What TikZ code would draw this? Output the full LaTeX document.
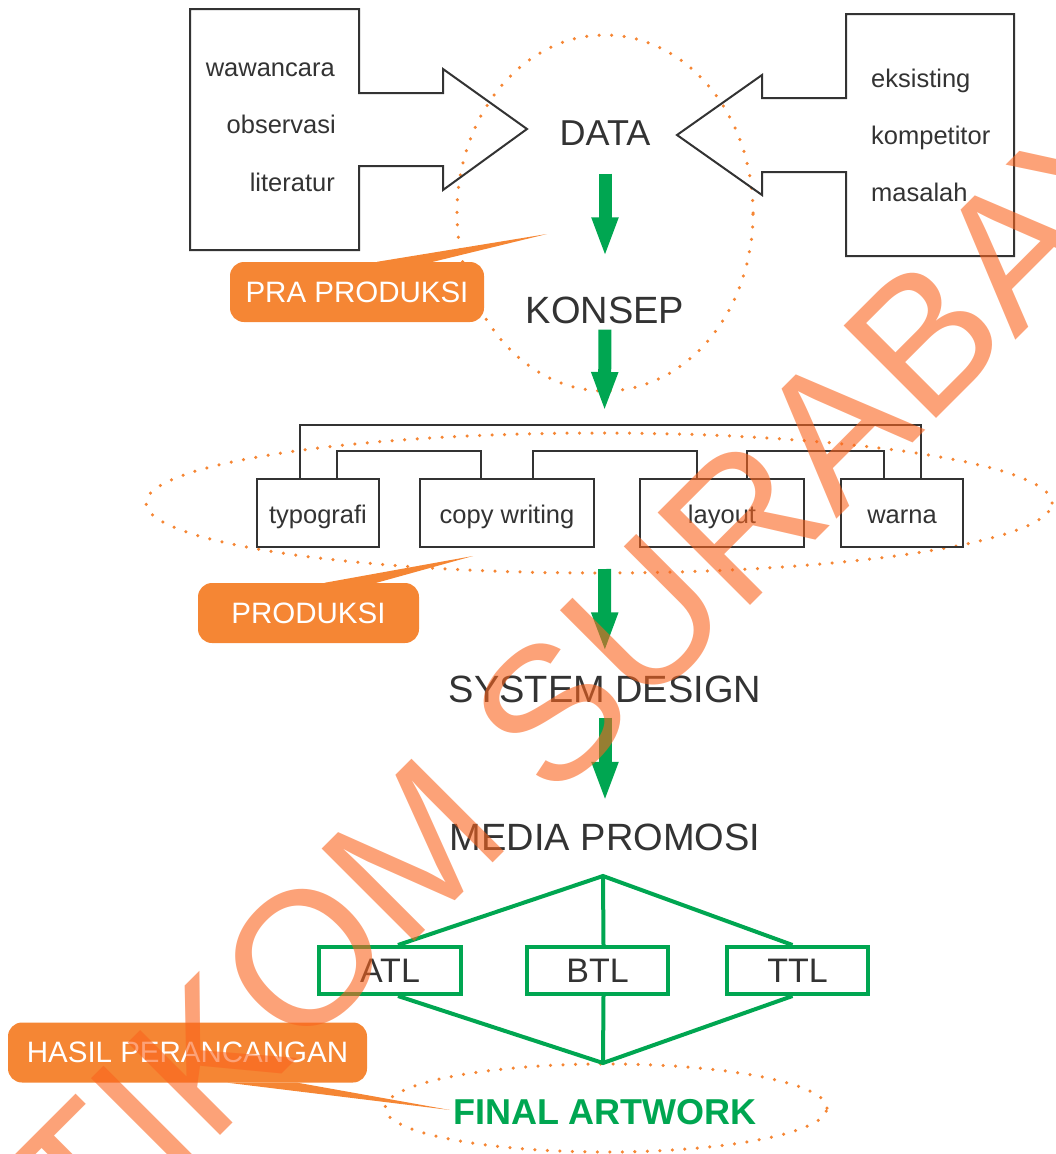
\documentclass[tikz,border=0pt]{standalone}
\usepackage{fontspec}
\setmainfont{Liberation Sans}
\usetikzlibrary{arrows.meta,calc}

\definecolor{inkgray}{HTML}{333333}
\definecolor{flowgreen}{HTML}{00A651}
\definecolor{tagorange}{HTML}{F58634}
\definecolor{markorange}{RGB}{250,100,30}

\tikzset{
  stage/.style={inner sep=0pt,text=inkgray,font=\fontsize{38}{38}\selectfont},
  source/.style={inner sep=0pt,text=inkgray,font=\fontsize{25.5}{26}\selectfont},
  part/.style={draw=inkgray,line width=2pt,minimum height=67.7pt,inner sep=0pt,
    text=inkgray,font=\fontsize{25.5}{26}\selectfont,text height=25pt,text depth=5pt},
  media/.style={draw=flowgreen,line width=4pt,minimum width=142pt,minimum height=47pt,
    inner sep=0pt,text=inkgray,font=\fontsize{34}{34}\selectfont},
  tag/.style={fill=tagorange,rounded corners=14pt,inner sep=0pt,minimum height=60pt,
    text=white,font=\fontsize{29.5}{30}\selectfont},
  flow/.style={draw=flowgreen,line width=13pt,-{Triangle[width=24pt,length=40pt]}},
  ring/.style={draw=tagorange,line width=3.5pt,line cap=round,dash pattern=on 0pt off 12.5pt},
  hub/.style={draw=flowgreen,line width=4pt},
  outline/.style={draw=inkgray,line width=2pt}
}

\begin{document}
\begin{tikzpicture}[x=1pt,y=-1pt]
  \useasboundingbox (0,0) rectangle (1055,1154);
  \clip (0,0) rectangle (1055,1154);

  % dotted groups
  \draw[ring] (605,213) ellipse [x radius=148pt,y radius=178pt];
  \draw[ring] (599,503) ellipse [x radius=453pt,y radius=70pt];
  \draw[ring] (606,1108) ellipse [x radius=221pt,y radius=44pt];

  % sources of data
  \draw[outline] (190,9) -- (359,9) -- (359,93) -- (443,93) -- (443,69) -- (527,129)
    -- (443,190) -- (443,166) -- (359,166) -- (359,250) -- (190,250) -- cycle;
  \draw[outline] (1014,14) -- (846,14) -- (846,98) -- (762,98) -- (762,75) -- (677,135)
    -- (762,195) -- (762,172) -- (846,172) -- (846,256) -- (1014,256) -- cycle;
  \node[source,anchor=base east] (wawancara) at (335,76) {wawancara};
  \node[source,anchor=base east] (observasi) at (336,133) {observasi};
  \node[source,anchor=base east] (literatur) at (335,191) {literatur};
  \node[source,anchor=base west] (eksisting) at (871,87) {eksisting};
  \node[source,anchor=base west] (kompetitor) at (871,144) {kompetitor};
  \node[source,anchor=base west] (masalah) at (871,201) {masalah};

  % main flow
  \node[stage,font=\fontsize{36}{36}\selectfont] (data) at (605,133) {DATA};
  \node[stage] (konsep) at (605,310) {KONSEP};
  \node[stage] (sysdesign) at (605,689) {SYSTEM DESIGN};
  \node[stage] (promosi) at (605,837.5) {MEDIA PROMOSI};
  \node[inner sep=0pt,text=flowgreen,font=\fontsize{36}{36}\selectfont\bfseries]
    (artwork) at (605,1112) {FINAL ARTWORK};

  % production parts
  \node[part,minimum width=122.6pt] (typo) at (318,513) {typografi};
  \node[part,minimum width=174.3pt] (copy) at (507,513) {copy writing};
  \node[part,minimum width=164pt] (layout) at (722,513) {layout};
  \node[part,minimum width=122.3pt] (warna) at (902,513) {warna};
  \coordinate (treetop) at (604.5,425);
  \coordinate (treebot) at (604.5,547);
  \draw[outline] ([xshift=-18pt]typo.north) |- (treetop) -| ([xshift=19pt]warna.north);
  \draw[outline] ([xshift=19pt]typo.north) -- ++(0,-27) -| ([xshift=-26pt]copy.north);
  \draw[outline] ([xshift=26pt]copy.north) -- ++(0,-27) -| ([xshift=-25pt]layout.north);
  \draw[outline] ([xshift=25pt]layout.north) -- ++(0,-27) -| ([xshift=-18pt]warna.north);

  % arrows
  \draw[flow,shorten <=28pt,shorten >=39pt] (data) -- (konsep);
  \draw[flow,shorten <=6pt,shorten >=13pt] (konsep) -- (treetop);
  \draw[flow,shorten <=22pt,shorten >=23pt] (treebot) -- (sysdesign);
  \draw[flow,shorten <=15pt,shorten >=22pt] (sysdesign) -- (promosi);

  % media
  \node[media] (atl) at (390,970.5) {ATL};
  \node[media,minimum width=141pt] (btl) at (597.5,970.5) {BTL};
  \node[media,minimum width=141pt] (ttl) at (797.5,970.5) {TTL};
  \coordinate (mtop) at (603,876);
  \coordinate (mbot) at (603,1063);
  \draw[hub] ([xshift=8pt]atl.north) -- (mtop) -- ([xshift=-5pt]ttl.north);
  \draw[hub] (mtop) -- ([xshift=6pt]btl.north);
  \draw[hub] ([xshift=8pt]atl.south) -- (mbot) -- ([xshift=-5pt]ttl.south);
  \draw[hub] (mbot) -- ([xshift=6pt]btl.south);

  % stage tags
  \coordinate (pratip) at (547,234);
  \coordinate (prodtip) at (473,556);
  \coordinate (hasiltip) at (450,1110);
  \node[tag,minimum width=254pt] (pra) at (357,292) {PRA PRODUKSI};
  \fill[tagorange] ([xshift=20pt]pra.north) -- (pratip) -- ([xshift=76pt]pra.north) -- cycle;
  \node[tag,minimum width=221pt] (prod) at (308.5,613) {PRODUKSI};
  \fill[tagorange] ([xshift=16pt]prod.north) -- (prodtip) -- ([xshift=68pt]prod.north) -- cycle;
  \node[tag,minimum width=359pt] (hasil) at (187.5,1052.5) {HASIL PERANCANGAN};
  \fill[tagorange] ([xshift=40pt]hasil.south) -- (hasiltip) -- ([xshift=110pt]hasil.south) -- cycle;

  % watermark
  \node[rotate=45,inner sep=0pt,text=markorange,opacity=0.6,
    font=\fontsize{190}{190}\selectfont] (mark) at (586,677) {STIKOM SURABAYA};
\end{tikzpicture}
\end{document}
